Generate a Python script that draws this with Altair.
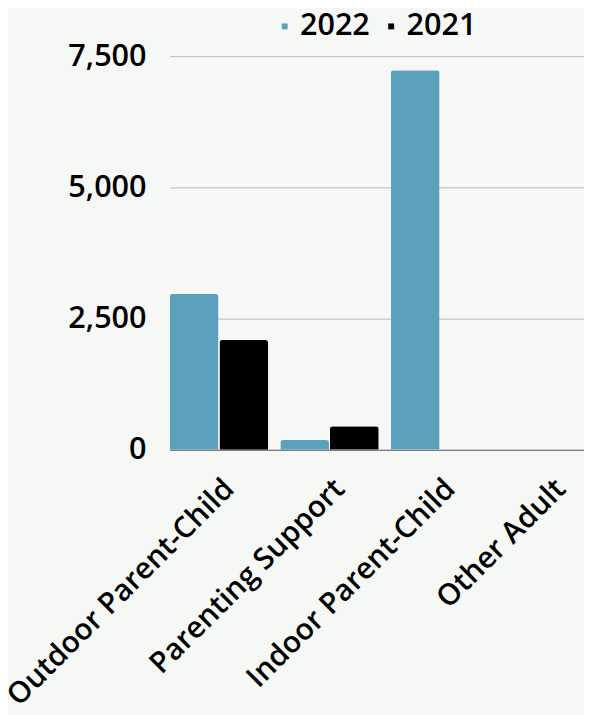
import altair as alt
import pandas as pd

categories = ["Outdoor Parent-Child", "Parenting Support", "Indoor Parent-Child", "Other Adult"]
series = ["2022", "2021"]
values_2022 = [2970, 185, 7235, 0]
values_2021 = [2090, 450, 0, 0]
colors = ["#5ba1bd", "#000000"]

rows = []
for c, v22, v21 in zip(categories, values_2022, values_2021):
    rows.append({"category": c, "year": "2022", "value": v22})
    rows.append({"category": c, "year": "2021", "value": v21})
df = pd.DataFrame(rows)

FONT = "Open Sans"
FS = 31

chart = alt.Chart(df).mark_bar(
    cornerRadiusTopLeft=3, cornerRadiusTopRight=3
).encode(
    x=alt.X("category:N", sort=categories,
            scale=alt.Scale(paddingInner=0.11, paddingOuter=0, range=[0, 436]),
            axis=alt.Axis(title=None, labelAngle=-45, labelFontSize=30, labelFontWeight=600,
                          labelFont=FONT, labelColor="#000000", ticks=False,
                          domainColor="#666666", labelPadding=24, labelLimit=400)),
    xOffset=alt.XOffset("year:N", sort=series, scale=alt.Scale(paddingInner=0.02)),
    y=alt.Y("value:Q", scale=alt.Scale(domain=[0, 7500], nice=False),
            axis=alt.Axis(title=None, values=[0, 2500, 5000, 7500], format=",d",
                          labelFontSize=FS, labelFontWeight=600, labelFont=FONT,
                          labelColor="#000000", ticks=False, domain=False,
                          gridColor="#b8b8b8", labelPadding=24)),
    color=alt.Color("year:N", sort=series,
                    scale=alt.Scale(domain=series, range=colors),
                    legend=alt.Legend(title=None, orient="none", direction="horizontal",
                                      legendX=101, legendY=-46,
                                      symbolType="square", symbolSize=36,
                                      labelFontSize=FS, labelFontWeight=600, labelFont=FONT,
                                      labelColor="#000000", columnPadding=6, labelOffset=0)),
).properties(
    width=420, height=399, background="#f6f8f6",
    autosize=alt.AutoSizeParams(type="none"),
    padding={"left": 164, "top": 44, "right": 0, "bottom": 264},
).configure_view(strokeWidth=0)

chart.save("out.html", embed_options={"renderer": "svg", "actions": False})
